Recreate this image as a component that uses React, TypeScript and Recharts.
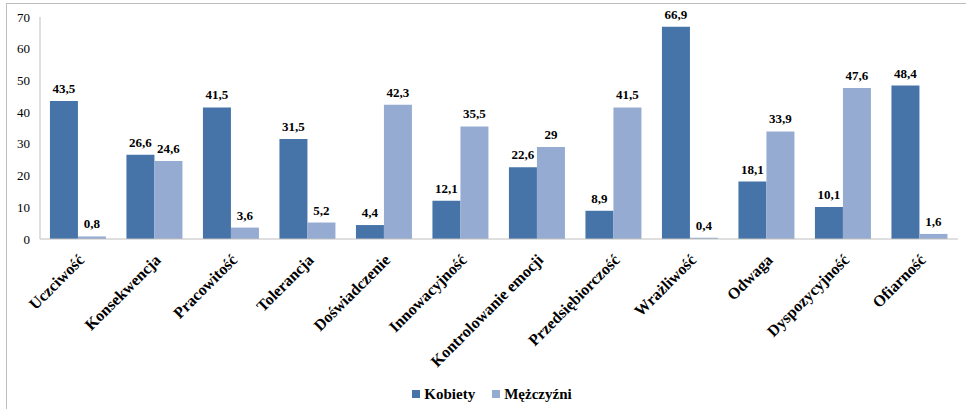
import { BarChart, Bar, XAxis, YAxis, Legend, LabelList } from "recharts";

// Cechy i odsetki odpowiedzi
const categories = [
  "Uczciwość",
  "Konsekwencja",
  "Pracowitość",
  "Tolerancja",
  "Doświadczenie",
  "Innowacyjność",
  "Kontrolowanie emocji",
  "Przedsiębiorczość",
  "Wrażliwość",
  "Odwaga",
  "Dyspozycyjność",
  "Ofiarność",
];
const kobiety = [43.5, 26.6, 41.5, 31.5, 4.4, 12.1, 22.6, 8.9, 66.9, 18.1, 10.1, 48.4];
const mezczyzni = [0.8, 24.6, 3.6, 5.2, 42.3, 35.5, 29, 41.5, 0.4, 33.9, 47.6, 1.6];
const yTicks = [0, 10, 20, 30, 40, 50, 60, 70];

const COLOR_K = "#4674A9";
const COLOR_M = "#95ABD2";
const AXIS_GREY = "#bfbfbf";
const FONT = "Liberation Serif, DejaVu Serif, serif";

const data = categories.map((name, i) => ({
  name,
  kobiety: kobiety[i],
  mezczyzni: mezczyzni[i],
}));

const formatValue = (v: any) => String(v).replace(".", ",");

// etykiety kategorii obrócone o 45 stopni, wyrównane do końca tekstu
const CategoryTick = ({ x, y, payload }: any) => (
  <g transform={`translate(${x + 3},${y + 10})`}>
    <text
      x={0}
      y={0}
      dy="0.35em"
      textAnchor="end"
      transform="rotate(-45)"
      style={{ fontFamily: FONT, fontWeight: "bold", fontSize: 16 }}
      fill="#000"
    >
      {payload.value}
    </text>
  </g>
);

const LegendContent = () => (
  <div
    style={{
      display: "flex",
      justifyContent: "center",
      alignItems: "center",
      height: 30,
      gap: 17,
      fontFamily: FONT,
      fontWeight: "bold",
      fontSize: 15,
      color: "#000",
      paddingLeft: 26,
    }}
  >
    {[
      { label: "Kobiety", color: COLOR_K },
      { label: "Mężczyźni", color: COLOR_M },
    ].map((item) => (
      <div key={item.label} style={{ display: "flex", alignItems: "center", gap: 4 }}>
        <span style={{ width: 8, height: 8, background: item.color, display: "inline-block" }} />
        <span>{item.label}</span>
      </div>
    ))}
  </div>
);

export default function App() {
  return (
    <div style={{ position: "absolute", left: 0, top: 0, width: 966, height: 409, background: "#fff", fontFamily: FONT }}>
      <div
        style={{
          position: "absolute",
          left: 6,
          top: 3,
          width: 960,
          height: 406,
          borderLeft: "1px solid #bdbdbd",
          borderTop: "1px solid #bdbdbd",
        }}
      />
      <BarChart
        width={966}
        height={409}
        data={data}
        margin={{ top: 17, right: 8, left: 0, bottom: 0 }}
        barCategoryGap="13%"
        barGap={0}
        style={{ fontFamily: FONT }}
      >
        <XAxis
          dataKey="name"
          interval={0}
          tickLine={false}
          axisLine={{ stroke: AXIS_GREY }}
          height={140}
          tick={<CategoryTick />}
        />
        <YAxis
          width={40}
          domain={[0, 70]}
          ticks={yTicks}
          tickLine={false}
          tickSize={0}
          tickMargin={10}
          axisLine={{ stroke: AXIS_GREY }}
          tick={{ style: { fontFamily: FONT, fontSize: 13 }, fill: "#000" }}
        />
        <Legend verticalAlign="bottom" height={30} content={<LegendContent />} />
        <Bar dataKey="kobiety" name="Kobiety" fill={COLOR_K} isAnimationActive={false}>
          <LabelList
            dataKey="kobiety"
            position="top"
            offset={8}
            formatter={formatValue}
            style={{ fontFamily: FONT, fontWeight: "bold", fontSize: 13, fill: "#000" }}
          />
        </Bar>
        <Bar dataKey="mezczyzni" name="Mężczyźni" fill={COLOR_M} isAnimationActive={false}>
          <LabelList
            dataKey="mezczyzni"
            position="top"
            offset={8}
            formatter={formatValue}
            style={{ fontFamily: FONT, fontWeight: "bold", fontSize: 13, fill: "#000" }}
          />
        </Bar>
      </BarChart>
    </div>
  );
}
